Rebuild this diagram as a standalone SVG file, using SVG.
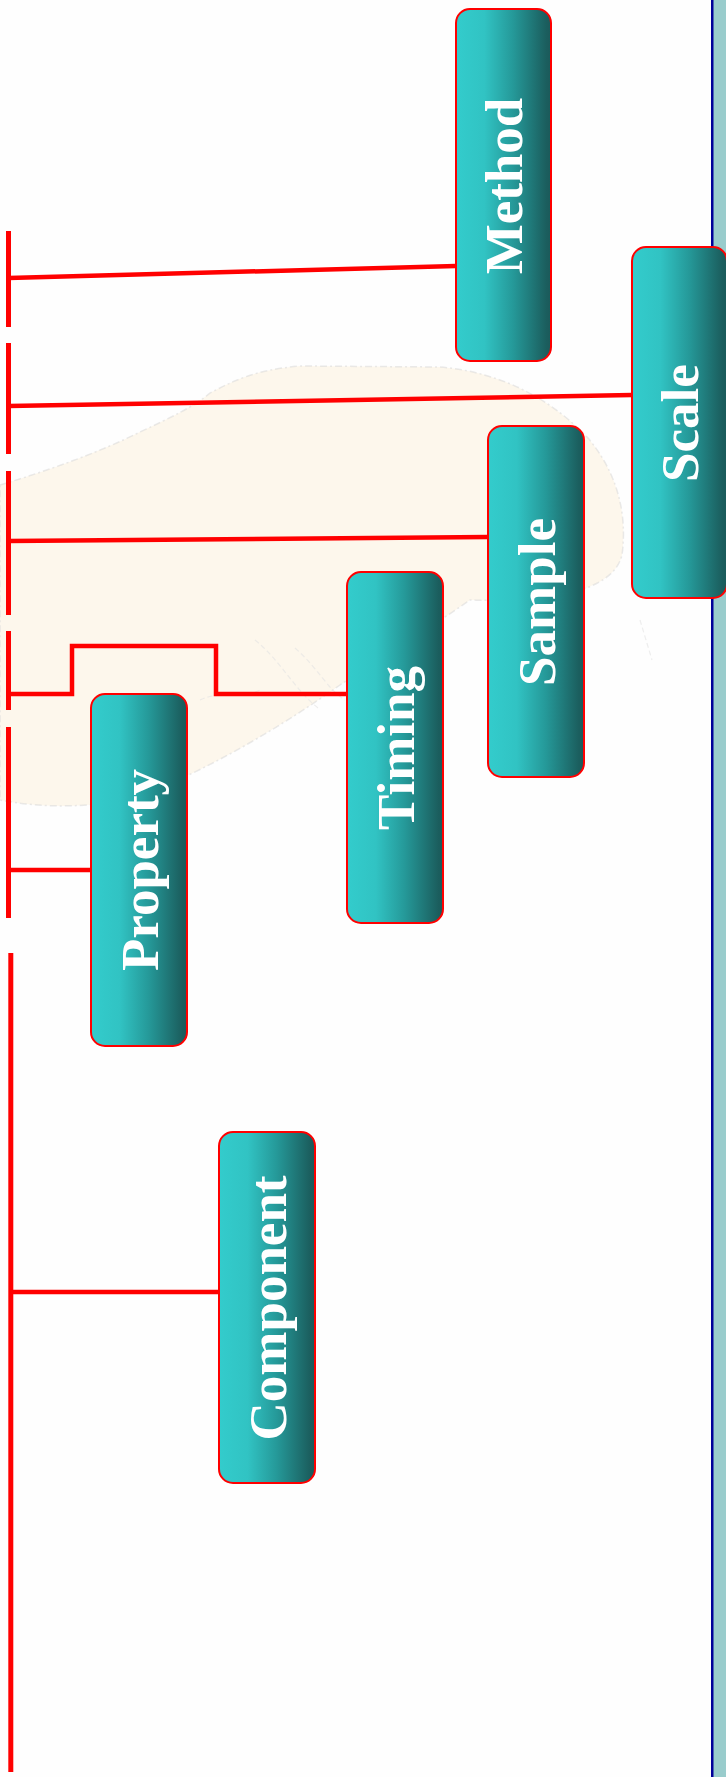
<svg xmlns="http://www.w3.org/2000/svg" width="726" height="1777" viewBox="0 0 726 1777">
<defs>
<linearGradient id="tealGrad" x1="0" y1="0" x2="1" y2="0">
<stop offset="0" stop-color="#33CCCC"/>
<stop offset="0.3" stop-color="#31C3C3"/>
<stop offset="0.6" stop-color="#259999"/>
<stop offset="0.95" stop-color="#1B5E5E"/>
<stop offset="1" stop-color="#1A5A5A"/>
</linearGradient>
<style>
.box{fill:url(#tealGrad);stroke:#FF0000;stroke-width:2}
.lbl{font-family:"Liberation Serif","Times New Roman",serif;font-weight:bold;font-size:53px;fill:#FFFFFF;text-anchor:middle}
.conn{stroke:#FF0000;stroke-width:4.5;fill:none;stroke-linejoin:miter}
.spine{stroke:#FF0000;stroke-width:5;fill:none}
</style>
</defs>
<rect x="0" y="0" width="726" height="1777" fill="#FEFEFE"/>
<g id="map">
<path d="M0,485 C50,470 100,452 140,432 C170,418 195,406 210,393 C235,380 255,370 300,366 L440,367 C500,372 550,398 588,438 C615,470 628,510 622,555 C612,595 540,602 470,600 C430,628 385,655 340,685 C285,724 215,766 150,792 C100,810 40,808 0,800 Z" fill="#FDF7EC" stroke="#D9D9D9" stroke-width="1.5" stroke-opacity="0.55" stroke-dasharray="7 3 2 3"/>
<path d="M255,640 C280,660 295,690 318,708 M295,648 C318,668 328,690 345,700 M200,700 C220,690 240,700 260,690 M640,620 L652,660" fill="none" stroke="#E2E2E2" stroke-width="1.2" stroke-opacity="0.6" stroke-dasharray="5 3"/>
</g>
<g id="rightStrip">
<rect x="713" y="0" width="13" height="1777" fill="#99CCCC"/>
<rect x="711" y="0" width="2.5" height="1777" fill="#000099"/>
</g>
<g id="connectors">
<line class="spine" x1="8.5" y1="231" x2="8.5" y2="327"/>
<line class="spine" x1="8.5" y1="343" x2="8.5" y2="454"/>
<line class="spine" x1="8.5" y1="471" x2="8.5" y2="615"/>
<line class="spine" x1="8.5" y1="631" x2="8.5" y2="710"/>
<line class="spine" x1="8.5" y1="727" x2="8.5" y2="918"/>
<line class="spine" x1="10.8" y1="953" x2="10.8" y2="1772"/>
<line class="conn" x1="8.5" y1="278" x2="456" y2="266"/>
<line class="conn" x1="8.5" y1="406" x2="632" y2="395"/>
<line class="conn" x1="8.5" y1="541" x2="488" y2="537"/>
<path class="conn" d="M8.5,694 H72 V646 H216 V694 H346"/>
<line class="conn" x1="8.5" y1="870" x2="91" y2="870"/>
<line class="conn" x1="10.8" y1="1292" x2="219" y2="1292"/>
</g>
<g id="node-method">
<rect class="box" x="456" y="9" width="95" height="352" rx="14"/>
<text class="lbl" transform="translate(522,186) rotate(-90)">Method</text>
</g>
<g id="node-scale">
<rect class="box" x="632" y="247" width="95" height="351" rx="14"/>
<text class="lbl" transform="translate(698,423) rotate(-90)">Scale</text>
</g>
<g id="node-sample">
<rect class="box" x="488" y="426" width="96" height="351" rx="14"/>
<text class="lbl" transform="translate(555,602) rotate(-90)">Sample</text>
</g>
<g id="node-timing">
<rect class="box" x="347" y="572" width="96" height="351" rx="14"/>
<text class="lbl" transform="translate(414,748) rotate(-90)">Timing</text>
</g>
<g id="node-property">
<rect class="box" x="91" y="694" width="96" height="352" rx="14"/>
<text class="lbl" transform="translate(158,870) rotate(-90)">Property</text>
</g>
<g id="node-component">
<rect class="box" x="219" y="1132" width="96" height="351" rx="14"/>
<text class="lbl" transform="translate(286,1308) rotate(-90)">Component</text>
</g>
</svg>
